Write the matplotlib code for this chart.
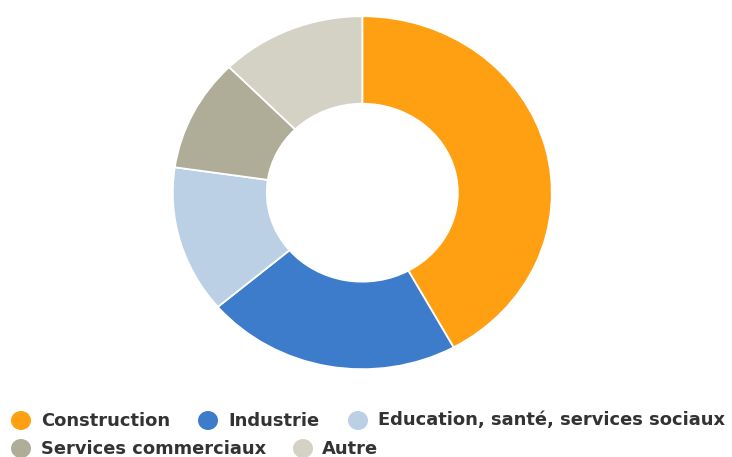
import matplotlib
matplotlib.use("Agg")
import matplotlib.pyplot as plt
from matplotlib.patches import Ellipse

categories = ["Construction", "Industrie", "Education, santé, services sociaux",
              "Services commerciaux", "Autre"]
values = [42.0, 21.8, 13.5, 10.3, 12.4]
colors = ["#FF9F12", "#3D7CCB", "#BBD0E5", "#AFAD98", "#D3D2C5"]

W, H = 732, 457
fig = plt.figure(figsize=(W / 100, H / 100), dpi=100)

# donut
cx, cy, rx, ry = 362.3, 192.7, 189.5, 176.5
ax = fig.add_axes([(cx - rx) / W, (H - cy - ry) / H, 2 * rx / W, 2 * ry / H])
ax.pie(values, colors=colors, startangle=90, counterclock=False, radius=1.0,
       wedgeprops=dict(width=0.496, edgecolor="white", linewidth=1.3))
ax.set_aspect("auto")
ax.set_xlim(-1, 1)
ax.set_ylim(-1, 1)
ax.axis("off")

# legend
lax = fig.add_axes([0, 0, 1, 1])
lax.set_xlim(0, W)
lax.set_ylim(H, 0)
lax.axis("off")
items = [(21, 41, 420.5), (208, 228, 420.5), (358, 378, 420.5), (21, 41, 448.5), (303, 322, 448.5)]
for (mx, tx, y), lab, c in zip(items, categories, colors):
    lax.add_patch(Ellipse((mx, y), 20, 19, facecolor=c, edgecolor="none"))
    lax.text(tx, y, lab, fontsize=12.9, fontweight="bold", color="#333333",
             va="center", ha="left", family="DejaVu Sans")

fig.savefig("out.png", dpi=100)
